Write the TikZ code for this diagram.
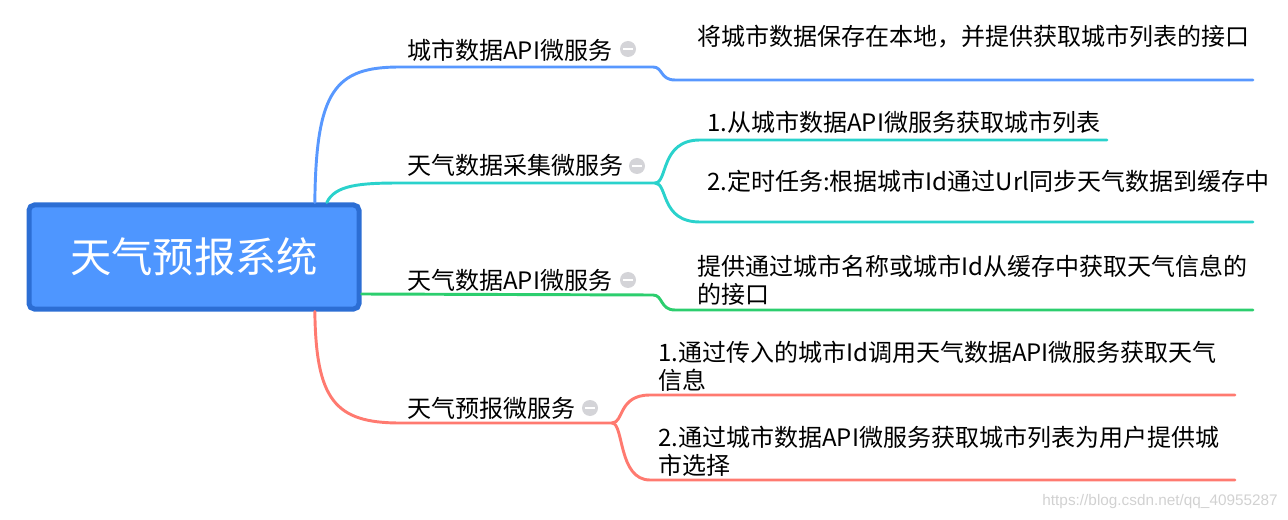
\documentclass[tikz,border=0pt]{standalone}
\usepackage{fontspec}
\setmainfont{Noto Sans CJK SC}
\newfontfamily\wmfont{Liberation Sans}
\usepackage{xcolor}
\usetikzlibrary{positioning,calc}
\definecolor{rootfill}{RGB}{78,150,255}
\definecolor{rootedge}{RGB}{44,110,212}
\definecolor{lineblue}{RGB}{88,152,255}
\definecolor{lineteal}{RGB}{42,210,204}
\definecolor{linegreen}{RGB}{44,206,110}
\definecolor{linered}{RGB}{255,122,112}
\definecolor{icongray}{RGB}{212,212,216}

\begin{document}
\begin{tikzpicture}[x=0.75pt, y=-0.75pt,
  branchtext/.style={anchor=west, inner sep=0pt, font=\fontsize{18}{21}\selectfont},
  leaftext/.style={anchor=west, inner sep=0pt, align=left, font=\fontsize{18}{21}\selectfont},
  foldicon/.style={circle, fill=icongray, minimum size=12pt, inner sep=0pt},
  conn/.style={line width=2.2pt, line cap=round}]
\useasboundingbox (0,0) rectangle (1288,520);

% root
\node[draw=rootedge, fill=rootfill, line width=3.75pt, rounded corners=4pt,
      minimum width=247.5pt, minimum height=78pt, inner sep=0pt,
      font=\fontsize{31}{36}\selectfont, text=white] (root) at (194,257) {天气预报系统};

% main branches
\node[branchtext] (city) at (407,50) {城市数据API微服务};
\node[foldicon] (cityicon) at (628,49) {\textcolor{white}{\rule{7pt}{2.2pt}}};
\node[branchtext] (collect) at (407,165) {天气数据采集微服务};
\node[foldicon] (collecticon) at (637,166) {\textcolor{white}{\rule{7pt}{2.2pt}}};
\node[branchtext] (wapi) at (407,280) {天气数据API微服务};
\node[foldicon] (wapiicon) at (628,280) {\textcolor{white}{\rule{7pt}{2.2pt}}};
\node[branchtext] (report) at (407,408) {天气预报微服务};
\node[foldicon] (reporticon) at (590,408) {\textcolor{white}{\rule{7pt}{2.2pt}}};

% leaves
\node[leaftext] (cityleaf) at (697,37) {将城市数据保存在本地，并提供获取城市列表的接口};
\node[leaftext] (collectleafa) at (707,122) {1.从城市数据API微服务获取城市列表};
\node[leaftext] (collectleafb) at (707,181) {2.定时任务:根据城市Id通过Url同步天气数据到缓存中};
\node[leaftext] (wapileaf) at (697,280) {提供通过城市名称或城市Id从缓存中获取天气信息的\\的接口};
\node[leaftext] (reportleafa) at (658,366) {1.通过传入的城市Id调用天气数据API微服务获取天气\\信息};
\node[leaftext] (reportleafb) at (658,451) {2.通过城市数据API微服务获取城市列表为用户提供城\\市选择};

% line ends
\coordinate (cityend) at (1253,80);
\coordinate (collectfork) at (655,183);
\coordinate (collectenda) at (1107,140);
\coordinate (collectendb) at (1253,222);
\coordinate (wapiend) at (1253,310);
\coordinate (reportfork) at (612,423);
\coordinate (reportenda) at (1235,395);
\coordinate (reportendb) at (1235,480);

% connectors
\draw[conn, lineblue] ([xshift=-35pt]root.north east) .. controls (316,90) and (335,67) .. (400,67)
  -- (653,67) .. controls (663,67) and (660,80) .. (675,80) -- (cityend);
\draw[conn, lineteal] ([xshift=-26pt]root.north east) .. controls (335,185) and (360,183) .. (400,183)
  -- (collectfork);
\draw[conn, lineteal] (collectfork) .. controls (668,183) and (660,140) .. (700,140) -- (collectenda);
\draw[conn, lineteal] (collectfork) .. controls (668,183) and (660,222) .. (700,222) -- (collectendb);
\draw[conn, linegreen] ([yshift=-27.75pt]root.east) -- (653,295) .. controls (663,295) and (660,310) .. (675,310)
  -- (wapiend);
\draw[conn, linered] ([xshift=-35pt]root.south east) .. controls (316,400) and (335,423) .. (400,423)
  -- (reportfork);
\draw[conn, linered] (reportfork) .. controls (624,423) and (618,395) .. (650,395) -- (reportenda);
\draw[conn, linered] (reportfork) .. controls (624,423) and (618,480) .. (650,480) -- (reportendb);

% watermark
\node[anchor=east, inner sep=0pt, text=black!18, font=\wmfont\fontsize{11.5}{13}\selectfont] (mark) at (1278,502) {https://blog.csdn.net/qq\_40955287};
\end{tikzpicture}
\end{document}
